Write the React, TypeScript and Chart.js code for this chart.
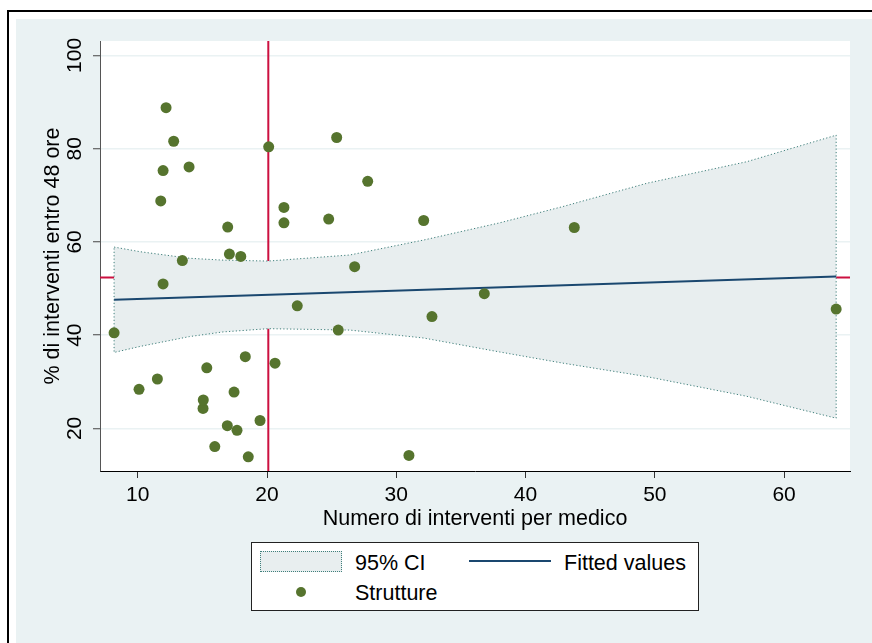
import React, { useEffect, useRef } from 'react';
import { Chart, registerables } from 'chart.js';

Chart.register(...registerables);

// ---------- data ----------
const STRUTTURE_X = [8.17, 10.1, 11.52, 11.78, 11.96, 11.96, 12.19, 12.78, 13.45, 13.97, 15.05, 15.07, 15.34, 15.96, 16.93, 16.96, 17.09, 17.45, 17.68, 17.97, 18.32, 18.55, 19.46, 20.13, 20.62, 21.31, 21.31, 22.34, 24.77, 25.39, 25.51, 26.78, 27.79, 30.98, 32.12, 32.76, 36.81, 43.77, 64.03];
const STRUTTURE_Y = [40.5, 28.4, 30.6, 68.8, 75.3, 51.0, 88.8, 81.6, 56.0, 76.1, 24.3, 26.1, 33.0, 16.1, 20.6, 63.2, 57.4, 27.8, 19.6, 56.9, 35.4, 13.9, 21.7, 80.4, 34.0, 67.4, 64.1, 46.3, 64.9, 82.4, 41.1, 54.7, 73.0, 14.2, 64.6, 44.0, 48.9, 63.1, 45.6];

const FIT_X = [8.17, 64.03];
const FIT_Y = [47.6, 52.6];

const CI_X = [8.17, 10.2, 14.0, 16.6, 20.1, 26.4, 32.1, 38.0, 42.9, 49.4, 57.1, 64.03];
const CI_UPPER = [58.9, 57.9, 56.5, 56.1, 55.9, 57.2, 60.4, 64.1, 67.6, 72.6, 77.2, 82.9];
const CI_LOWER = [36.3, 37.6, 39.7, 40.7, 41.4, 41.1, 39.4, 36.4, 34.0, 31.1, 26.9, 22.2];

const REF_X = 20.1;
const REF_Y = 52.35;

const X_TICKS = [10, 20, 30, 40, 50, 60];
const Y_TICKS = [20, 40, 60, 80, 100];
const X_MIN = 7.08;
const X_MAX = 65.1;
const Y_MIN = 10.87;
const Y_MAX = 103.1;

const X_TITLE = 'Numero di interventi per medico';
const Y_TITLE = '% di interventi entro 48 ore';
const LABEL_CI = '95% CI';
const LABEL_FIT = 'Fitted values';
const LABEL_PTS = 'Strutture';

// ---------- style ----------
const FONT = '"Liberation Sans", Arial, Helvetica, sans-serif';
const BG = '#EAF2F3';
const RED = '#CC1040';
const BAND = '#E8EEEF';
const TEAL = '#3F7F7B';
const NAVY = '#1A476F';
const GREEN = '#56742E';

const xy = (xs: number[], ys: number[]) => xs.map((x, i) => ({ x, y: ys[i] }));

const plotBg = {
  id: 'plotBg',
  beforeDraw(chart: any) {
    const { ctx, chartArea: a } = chart;
    ctx.save();
    ctx.fillStyle = '#ffffff';
    ctx.fillRect(a.left, a.top, a.right - a.left, a.bottom - a.top);
    ctx.restore();
  },
};

export default function App() {
  const ref = useRef<HTMLCanvasElement | null>(null);

  useEffect(() => {
    if (!ref.current) return;
    const bandPts = [
      ...xy(CI_X, CI_UPPER),
      ...xy(CI_X, CI_LOWER).reverse(),
      { x: CI_X[0], y: CI_UPPER[0] },
    ];
    const chart = new Chart(ref.current, {
      type: 'scatter',
      data: {
        datasets: [
          {
            label: 'refx',
            data: [{ x: REF_X, y: Y_MIN }, { x: REF_X, y: Y_MAX }],
            showLine: true,
            borderColor: RED,
            borderWidth: 2,
            pointRadius: 0,
            fill: false,
            order: 6,
          } as any,
          {
            label: 'refy',
            data: [{ x: X_MIN, y: REF_Y }, { x: X_MAX, y: REF_Y }],
            showLine: true,
            borderColor: RED,
            borderWidth: 2,
            pointRadius: 0,
            fill: false,
            order: 5,
          },
          {
            label: LABEL_CI,
            data: bandPts,
            showLine: true,
            fill: 'shape',
            backgroundColor: BAND,
            borderColor: TEAL,
            borderWidth: 1,
            borderDash: [1.2, 2.2],
            pointRadius: 0,
            tension: 0,
            order: 4,
          },
          {
            label: LABEL_FIT,
            data: xy(FIT_X, FIT_Y),
            showLine: true,
            borderColor: NAVY,
            borderWidth: 2,
            pointRadius: 0,
            fill: false,
            order: 2,
          },
          {
            label: LABEL_PTS,
            data: xy(STRUTTURE_X, STRUTTURE_Y),
            showLine: false,
            pointRadius: 5.5,
            pointBackgroundColor: GREEN,
            pointBorderColor: GREEN,
            pointBorderWidth: 0,
            order: 1,
          },
        ],
      },
      options: {
        responsive: false,
        animation: false,
        events: [],
        layout: { padding: { left: 16, top: 41, right: 22, bottom: 112 } },
        plugins: {
          legend: { display: false },
          tooltip: { enabled: false },
        },
        scales: {
          x: {
            type: 'linear',
            min: X_MIN,
            max: X_MAX,
            afterBuildTicks: (s: any) => { s.ticks = X_TICKS.map((v) => ({ value: v })); },
            afterFit: (s: any) => { s.height = 60; },
            ticks: { font: { size: 21, family: FONT }, color: '#000', padding: 5 },
            grid: { drawOnChartArea: false, tickLength: 7, tickColor: '#333', tickWidth: 1 },
            border: { color: '#000', width: 1 },
            title: {
              display: true,
              text: X_TITLE,
              color: '#000',
              font: { size: 21.5, family: FONT },
              padding: { top: 0, bottom: -1 },
            },
          },
          y: {
            type: 'linear',
            min: Y_MIN,
            max: Y_MAX,
            afterBuildTicks: (s: any) => { s.ticks = Y_TICKS.map((v) => ({ value: v })); },
            afterFit: (s: any) => { s.width = 84; },
            ticks: {
              font: { size: 21, family: FONT },
              color: '#000',
              minRotation: 90,
              maxRotation: 90,
              crossAlign: 'center',
              padding: 0,
            },
            grid: { color: BG, lineWidth: 1.5, tickLength: 7, tickColor: '#444', tickWidth: 1 },
            border: { color: '#555', width: 1 },
            title: {
              display: true,
              text: Y_TITLE,
              color: '#000',
              font: { size: 21.5, family: FONT },
              padding: { top: 24, bottom: 0 },
            },
          },
        },
      } as any,
      plugins: [plotBg],
    });
    return () => chart.destroy();
  }, []);

  const txt: React.CSSProperties = {
    position: 'absolute',
    fontFamily: FONT,
    fontSize: 21.5,
    lineHeight: 1.2,
    color: '#000',
    whiteSpace: 'nowrap',
  };

  return (
    <div style={{ position: 'fixed', left: 0, top: 0, width: 872, height: 643, background: '#fff', overflow: 'hidden' }}>
      <div style={{ position: 'absolute', left: 7, top: 10, width: 900, height: 700, borderLeft: '2px solid #000', borderTop: '2px solid #000' }} />
      <div style={{ position: 'absolute', left: 16, top: 19, right: 0, bottom: 0, background: BG }} />
      <canvas ref={ref} width={872} height={643} style={{ position: 'absolute', left: 0, top: 0, width: 872, height: 643 }} />
      <div style={{ position: 'absolute', left: 251, top: 542, width: 448, height: 69, boxSizing: 'border-box', border: '1px solid #222', background: '#fff' }} />
      <div style={{ position: 'absolute', left: 260, top: 551, width: 82, height: 21, boxSizing: 'border-box', border: `1px dotted ${TEAL}`, background: BAND }} />
      <div style={{ ...txt, left: 355, top: 551 }}>{LABEL_CI}</div>
      <div style={{ position: 'absolute', left: 469, top: 560, width: 82, height: 2, background: NAVY }} />
      <div style={{ ...txt, left: 564, top: 551 }}>{LABEL_FIT}</div>
      <div style={{ position: 'absolute', left: 296, top: 587, width: 10, height: 10, borderRadius: 5, background: GREEN }} />
      <div style={{ ...txt, left: 355, top: 581 }}>{LABEL_PTS}</div>
    </div>
  );
}
